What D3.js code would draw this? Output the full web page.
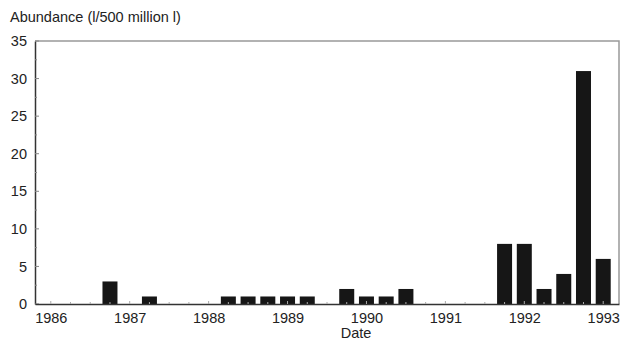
<!DOCTYPE html>
<html>
<head>
<meta charset="utf-8">
<script src="https://cdn.jsdelivr.net/npm/d3@7"></script>
<style>
  body { margin: 0; background: #fff; }
  svg { display: block; }
</style>
</head>
<body>
<div id="chart"></div>
<script>
// sampling dates (decimal year, quarterly) and abundance values
var dates = [1986.75, 1987.25, 1988.25, 1988.5, 1988.75, 1989.0, 1989.25,
             1989.75, 1990.0, 1990.25, 1990.5,
             1991.75, 1992.0, 1992.25, 1992.5, 1992.75, 1993.0];
var abundance = [3, 1, 1, 1, 1, 1, 1,
                 2, 1, 1, 2,
                 8, 8, 2, 4, 31, 6];
var yearTicks = [1986, 1987, 1988, 1989, 1990, 1991, 1992, 1993];
var yTicks = [0, 5, 10, 15, 20, 25, 30, 35];

var width = 621, height = 347;
var mLeft = 35, mRight = 619, mTop = 41, mBottom = 304;
var fontSize = "14.5px";

var svg = d3.select("#chart").append("svg")
    .attr("width", width)
    .attr("height", height)
    .style("font-family", "'Liberation Sans', Arial, sans-serif");

var x = d3.scaleLinear().domain([1985.8, 1993.2]).range([mLeft, mRight]);
var y = d3.scaleLinear().domain([0, 35]).range([mBottom, mTop]);

var barW = x(1986.19) - x(1986);

// frame (top and right, lighter)
svg.append("path")
    .attr("d", "M" + mLeft + "," + mTop + "H" + mRight + "V" + mBottom)
    .attr("fill", "none")
    .attr("stroke", "#999")
    .attr("stroke-width", 1.5);

// bars
svg.selectAll(".bar")
    .data(dates)
    .enter()
    .append("rect")
    .attr("x", function(d) { return x(d) - barW / 2; })
    .attr("y", function(d, i) { return y(abundance[i]); })
    .attr("width", barW)
    .attr("height", function(d, i) { return y(0) - y(abundance[i]); })
    .attr("fill", "#161616");

// y axis
var yAxis = d3.axisLeft(y).tickValues(yTicks).tickSize(0).tickPadding(8);
var gy = svg.append("g").attr("transform", "translate(" + mLeft + ",0)").call(yAxis);
gy.select(".domain").attr("stroke", "#333").attr("stroke-width", 1.5);
gy.selectAll("text").style("font-size", fontSize).attr("fill", "#222");
// inward ticks
var yMinor = d3.range(0, 35.01, 2.5);
gy.selectAll(".ytk")
    .data(yMinor)
    .enter()
    .append("line")
    .attr("x1", 0)
    .attr("x2", function(d) { return d % 5 === 0 ? 4 : 2; })
    .attr("y1", function(d) { return y(d); })
    .attr("y2", function(d) { return y(d); })
    .attr("stroke", "#888");

// x axis
var xAxis = d3.axisBottom(x).tickValues(yearTicks).tickFormat(d3.format("d")).tickSize(0).tickPadding(9);
var gx = svg.append("g").attr("transform", "translate(0," + mBottom + ")").call(xAxis);
gx.select(".domain").attr("stroke", "#333").attr("stroke-width", 1.5);
gx.selectAll("text").style("font-size", fontSize).attr("fill", "#222");
var xMinor = d3.range(1986, 1993.01, 0.25);
gx.selectAll(".xtk")
    .data(xMinor)
    .enter()
    .append("line")
    .attr("x1", function(d) { return x(d); })
    .attr("x2", function(d) { return x(d); })
    .attr("y1", 0)
    .attr("y2", function(d) { return d % 1 === 0 ? -3 : -2; })
    .attr("stroke", "#aaa");

// titles
svg.append("text")
    .attr("x", 10)
    .attr("y", 22)
    .style("font-size", fontSize)
    .attr("fill", "#222")
    .text("Abundance (l/500 million l)");

svg.append("text")
    .attr("x", 356)
    .attr("y", 338)
    .attr("text-anchor", "middle")
    .style("font-size", fontSize)
    .attr("fill", "#222")
    .text("Date");
</script>
</body>
</html>
